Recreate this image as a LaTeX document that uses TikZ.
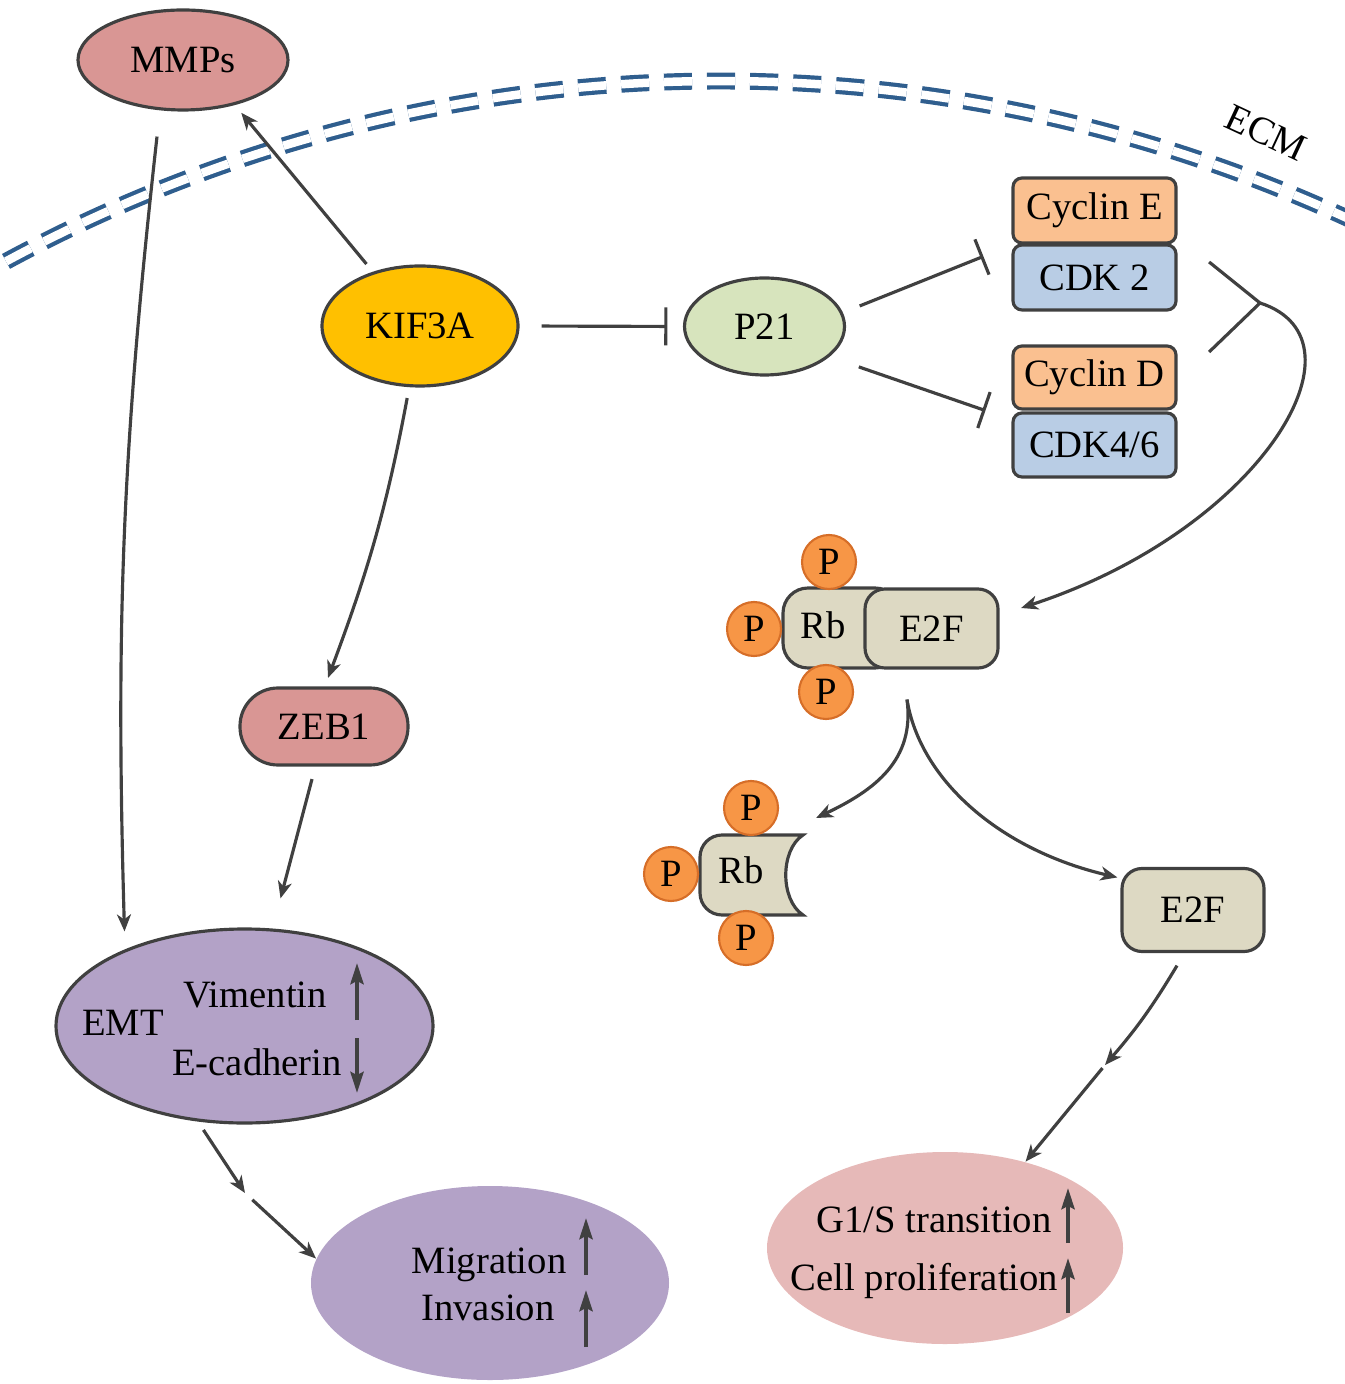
\documentclass[tikz,border=0pt]{standalone}
\usepackage{fontspec}
\setmainfont{Liberation Serif}
\usetikzlibrary{shapes.geometric,arrows.meta}

\definecolor{linegray}{RGB}{64,64,64}
\definecolor{ecmblue}{RGB}{47,94,142}
\definecolor{rose}{RGB}{217,150,148}
\definecolor{gold}{RGB}{255,192,0}
\definecolor{pale}{RGB}{215,228,189}
\definecolor{peach}{RGB}{250,192,144}
\definecolor{sky}{RGB}{185,205,229}
\definecolor{khaki}{RGB}{221,217,195}
\definecolor{lilac}{RGB}{179,162,199}
\definecolor{blush}{RGB}{230,185,184}
\definecolor{pfill}{RGB}{247,150,70}
\definecolor{pedge}{RGB}{214,110,40}

\begin{document}
\begin{tikzpicture}[
  font=\fontsize{11}{13}\selectfont,
  conn/.style={draw=linegray, line width=0.9pt},
  act/.style={conn, -{Stealth[length=0.17cm,width=0.14cm,inset=0.05cm]}},
  inh/.style={conn, -{Bar[width=0.38cm]}},
  blob/.style={ellipse, draw=linegray, line width=0.9pt, inner sep=0pt},
  box/.style={rectangle, rounded corners=0.09cm, draw=linegray, line width=0.9pt, minimum width=1.63cm, inner sep=0pt},
  phos/.style={circle, draw=pedge, fill=pfill, line width=0.6pt, minimum size=0.54cm, inner sep=0pt},
  updown/.style={draw=linegray, line width=1.15pt, -{Stealth[length=0.21cm,width=0.13cm,inset=0.03cm]}},
  lbl/.style={anchor=base, inner sep=0pt},
  ecm/.style={draw=ecmblue, line width=0.042cm, double=white, double distance=0.085cm, dash pattern=on 0.28cm off 0.15cm}
]
\useasboundingbox (0,0) rectangle (13.44,-13.84);

% membrane
\draw[ecm] (7.2,-15.84) ++(120:15.03) arc[start angle=120, end angle=64, radius=15.03];
\node[rotate=-25, inner sep=0pt] (ecmlbl) at (12.66,-1.33) {ECM};

% upstream
\node[blob, fill=rose, minimum width=2.10cm, minimum height=1.00cm] (mmps) at (1.83,-0.60) {MMPs};
\node[blob, fill=gold, minimum width=1.96cm, minimum height=1.20cm] (kif) at (4.20,-3.26) {KIF3A};
\node[blob, fill=pale, minimum width=1.60cm, minimum height=0.97cm] (p21) at (7.645,-3.265) {P21};

\node[box, fill=peach, minimum height=0.65cm] (cyce) at (10.945,-2.105) {Cyclin E};
\node[box, fill=sky, minimum height=0.65cm] (cdk2) at (10.945,-2.775) {CDK 2};
\node[box, fill=peach, minimum height=0.63cm] (cycd) at (10.945,-3.775) {Cyclin D};
\node[box, fill=sky, minimum height=0.64cm] (cdk46) at (10.945,-4.45) {CDK4/6};

% Rb-E2F complex
\filldraw[conn, fill=khaki, rounded corners=0.25cm] (7.83,-5.88) rectangle (9.0,-6.68);
\node (rb1) at (8.23,-6.25) {Rb};
\node[box, fill=khaki, rounded corners=0.2cm, minimum width=1.33cm, minimum height=0.79cm] (e2fa) at (9.315,-6.285) {E2F};

% free Rb and E2F
\filldraw[conn, fill=khaki] (8.03,-8.35) -- (7.22,-8.35) arc[start angle=90, end angle=180, radius=0.22cm]
  -- (7.0,-8.93) arc[start angle=180, end angle=270, radius=0.22cm]
  -- (8.03,-9.15) .. controls (7.8,-9.0) and (7.8,-8.5) .. cycle;
\node (rb2) at (7.41,-8.70) {Rb};
\node[box, fill=khaki, rounded corners=0.2cm, minimum width=1.42cm, minimum height=0.83cm] (e2fb) at (11.93,-9.10) {E2F};

\foreach \name/\x/\y in {pa1/8.29/-5.62, pa2/7.54/-6.29, pa3/8.26/-6.92, pb1/7.51/-8.08, pb2/6.71/-8.74, pb3/7.46/-9.38}
  {\node[phos] (\name) at (\x,\y) {P};}

% left branch
\node[box, fill=rose, rounded corners=0.38cm, minimum width=1.68cm, minimum height=0.77cm] (zeb) at (3.24,-7.265) {ZEB1};

\node[blob, fill=lilac, minimum width=3.77cm, minimum height=1.94cm] (emt) at (2.445,-10.26) {};
\node[lbl] (emtlbl) at (1.23,-10.35) {EMT};
\node[lbl] (vim) at (2.55,-10.07) {Vimentin};
\node[lbl] (ecad) at (2.57,-10.75) {E-cadherin};
\draw[updown] (3.57,-10.20) -- (3.57,-9.63);
\draw[updown] (3.57,-10.38) -- (3.57,-10.93);

\node[ellipse, fill=lilac, minimum width=3.58cm, minimum height=1.94cm] (mig) at (4.90,-12.83) {};
\node[lbl] (miglbl) at (4.89,-12.73) {Migration};
\node[lbl] (invlbl) at (4.88,-13.20) {Invasion};
\draw[updown] (5.86,-12.75) -- (5.86,-12.18);
\draw[updown] (5.86,-13.47) -- (5.86,-12.90);

% outcome of E2F
\node[ellipse, fill=blush, minimum width=3.56cm, minimum height=1.92cm] (g1s) at (9.45,-12.48) {};
\node[lbl] (g1slbl) at (9.34,-12.32) {G1/S transition};
\node[lbl] (prolbl) at (9.245,-12.90) {Cell proliferation};
\draw[updown] (10.68,-12.43) -- (10.68,-11.88);
\draw[updown] (10.68,-13.13) -- (10.68,-12.58);

% connectors
\draw[act, shorten <=0.1cm, shorten >=0.1cm] (kif.131) -- (mmps.-41);
\draw[act] ([xshift=-0.26cm,yshift=-0.25cm]mmps.south) to[bend right=4] ([xshift=-1.2cm,yshift=-0.04cm]emt.north);
\draw[act, shorten <=0.11cm] (kif.-100) to[bend left=5] ([xshift=0.04cm,yshift=0.085cm]zeb.north);
\draw[act] ([xshift=-0.12cm,yshift=-0.125cm]zeb.south) -- ([xshift=0.36cm,yshift=0.29cm]emt.north);

\coordinate (emid) at (2.45,-11.93);
\draw[act, shorten <=0.1cm] (emt.-116) -- (emid);
\draw[act, shorten <=0.1cm] (emid) -- (mig.172);

\draw[inh, shorten <=0.22cm, shorten >=0.155cm] (kif.east) -- (p21.west);
\draw[inh, shorten <=0.18cm] (p21.10) -- ([xshift=-0.28cm,yshift=-0.13cm]cdk2.north west);
\draw[inh, shorten <=0.31cm] (p21.-25) -- ([xshift=-0.26cm]cycd.south west);

\coordinate (junc) at (12.60,-3.03);
\draw[conn] ([xshift=0.315cm,yshift=0.155cm]cdk2.east) -- (junc);
\draw[conn] ([xshift=0.315cm,yshift=0.255cm]cycd.east) -- (junc);
\draw[act] (junc) .. controls (13.75,-3.4) and (12.6,-5.3) .. ([xshift=0.215cm,yshift=0.205cm]e2fa.east);

\coordinate (split) at ([xshift=-0.245cm,yshift=-0.3cm]e2fa.south);
\draw[act] (split) .. controls (9.15,-7.6) and (8.75,-7.9) .. ([xshift=0.37cm,yshift=-0.10cm]pb1.east);
\draw[act] (split) .. controls (9.2,-7.8) and (10.0,-8.5) .. ([xshift=-0.03cm,yshift=-0.105cm]e2fb.north west);

\coordinate (gmid) at (11.05,-10.65);
\draw[act] ([xshift=-0.16cm,yshift=-0.125cm]e2fb.south) to[bend left=5] (gmid);
\draw[act, shorten <=0.04cm] (gmid) -- (g1s.47);

\end{tikzpicture}
\end{document}
